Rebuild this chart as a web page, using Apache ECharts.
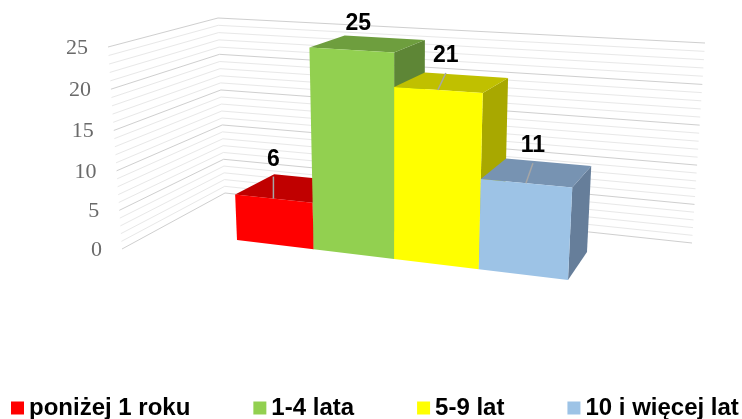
<!DOCTYPE html>
<html>
<head>
<meta charset="utf-8">
<style>
  html, body { margin: 0; padding: 0; background: #fff; }
  #chart { width: 742px; height: 419px; filter: blur(0.45px); }
</style>
</head>
<body>
<div id="chart"></div>
<script src="https://cdn.jsdelivr.net/npm/echarts@6/dist/echarts.min.js"></script>
<script>
const categories = ['poniżej 1 roku', '1-4 lata', '5-9 lat', '10 i więcej lat'];
const values = [6, 25, 21, 11];
const wallLevels = [0, 1, 2, 3, 4, 5, 6, 7, 8, 9, 10, 11, 12, 13, 14, 15, 16, 17, 18, 19, 20, 21, 22, 23, 24, 25];
const frontColors = ['#ff0000', '#92d050', '#ffff00', '#9dc3e6'];
const topColors = ['#c00000', '#6e9e3e', '#c0c000', '#7793b2'];
const sideColors = ['#a00000', '#5e8636', '#a8a800', '#667e9a'];

// label shift from the middle of the bar's front top edge: dx, dy
const labelShift = [[0, -39], [7, -26], [8, -34], [7, -37]];
const hasLeader = [true, false, true, true];

// corners of the tilted planes, order: bottom left, bottom right, top right, top left
const frontPlane = quadMap([237, 240], [568, 280], [578, 63], [229, 43]);
const backPlane = quadMap([276, 217], [587, 252], [597, 50], [268, 31]);
const leftWall = quadMap([122, 249], [225, 193], [218, 18], [108, 47]);
const rightWall = quadMap([225, 193], [692, 243], [705, 43], [218, 18]);

// unit square to quad, perspective
function quadMap(a, b, c, d) {
  const dx1 = b[0] - c[0], dx2 = d[0] - c[0], sx = a[0] - b[0] + c[0] - d[0];
  const dy1 = b[1] - c[1], dy2 = d[1] - c[1], sy = a[1] - b[1] + c[1] - d[1];
  const den = dx1 * dy2 - dx2 * dy1;
  const g = (sx * dy2 - dx2 * sy) / den;
  const h = (dx1 * sy - sx * dy1) / den;
  return function (s, t) {
    const w = g * s + h * t + 1;
    return [
      ((b[0] - a[0] + g * b[0]) * s + (d[0] - a[0] + h * d[0]) * t + a[0]) / w,
      ((b[1] - a[1] + g * b[1]) * s + (d[1] - a[1] + h * d[1]) * t + a[1]) / w
    ];
  };
}

function renderBar(params, api) {
  const sys = params.coordSys;
  const i = api.value(0);
  const pt = api.coord([i, api.value(1)]);
  const band = api.size([1, 0])[0];
  const s0 = (pt[0] - band / 2 - sys.x) / sys.width;
  const s1 = s0 + band / sys.width;
  const t = (sys.y + sys.height - pt[1]) / sys.height;

  const poly = function (points, color) {
    return { type: 'polygon', shape: { points: points }, style: { fill: color } };
  };
  const fbl = frontPlane(s0, 0), fbr = frontPlane(s1, 0), ftr = frontPlane(s1, t), ftl = frontPlane(s0, t);
  const bbr = backPlane(s1, 0), btr = backPlane(s1, t), btl = backPlane(s0, t);

  const mid = frontPlane((s0 + s1) / 2, t);
  const lx = mid[0] + labelShift[i][0];
  const ly = mid[1] + labelShift[i][1];

  const children = [
    poly([fbr, bbr, btr, ftr], sideColors[i]),
    poly([ftl, ftr, btr, btl], topColors[i]),
    poly([fbl, fbr, ftr, ftl], frontColors[i])
  ];
  if (hasLeader[i]) {
    children.push({
      type: 'line',
      shape: { x1: mid[0], y1: mid[1], x2: lx, y2: ly + 17 },
      style: { stroke: '#a6a6a6', lineWidth: 1.5 }
    });
  }
  children.push({
    type: 'text',
    style: {
      x: lx, y: ly, text: String(api.value(1)), align: 'center', verticalAlign: 'middle',
      font: 'bold 23px "Liberation Sans", Arial, sans-serif', fill: '#000'
    }
  });
  return { type: 'group', children: children };
}

function renderWall(params, api) {
  const sys = params.coordSys;
  const v = api.value(1);
  const t = (sys.y + sys.height - api.coord([0, v])[1]) / sys.height;
  const major = v % 5 === 0;
  const start = leftWall(0, t);
  const children = [{
    type: 'polyline',
    shape: { points: [start, leftWall(1, t), rightWall(1, t)] },
    style: { fill: 'none', stroke: major ? '#cfcfcf' : '#e8e8e8', lineWidth: 1 }
  }];
  if (major) {
    children.push({
      type: 'text',
      style: {
        x: start[0] - 20, y: start[1] + 1, text: String(v), align: 'right', verticalAlign: 'middle',
        font: '22px "Liberation Serif", "Times New Roman", serif', fill: '#6a6a6a'
      }
    });
  }
  return { type: 'group', children: children };
}

const series = [{
  name: 'wall',
  type: 'custom',
  renderItem: renderWall,
  silent: true,
  clip: false,
  data: wallLevels.map(function (v) { return [0, v]; })
}];
categories.forEach(function (name, i) {
  series.push({
    name: name,
    type: 'custom',
    renderItem: renderBar,
    clip: false,
    itemStyle: { color: frontColors[i] },
    data: [[i, values[i]]]
  });
});

const chart = echarts.init(document.getElementById('chart'));
chart.setOption({
  animation: false,
  backgroundColor: '#ffffff',
  legend: {
    data: categories.map(function (name) { return { name: name, icon: 'rect' }; }),
    left: 11,
    top: 396,
    width: 731,
    padding: 0,
    itemGap: 63,
    itemWidth: 13,
    itemHeight: 13,
    textStyle: {
      fontFamily: '"Liberation Sans", Arial, sans-serif',
      fontWeight: 'bold',
      fontSize: 24,
      color: '#000'
    }
  },
  grid: { left: 100, right: 40, top: 48, bottom: 169 },
  xAxis: { type: 'category', data: categories, show: false },
  yAxis: { type: 'value', min: 0, max: 25, interval: 5, show: false },
  series: series
});
</script>
</body>
</html>
